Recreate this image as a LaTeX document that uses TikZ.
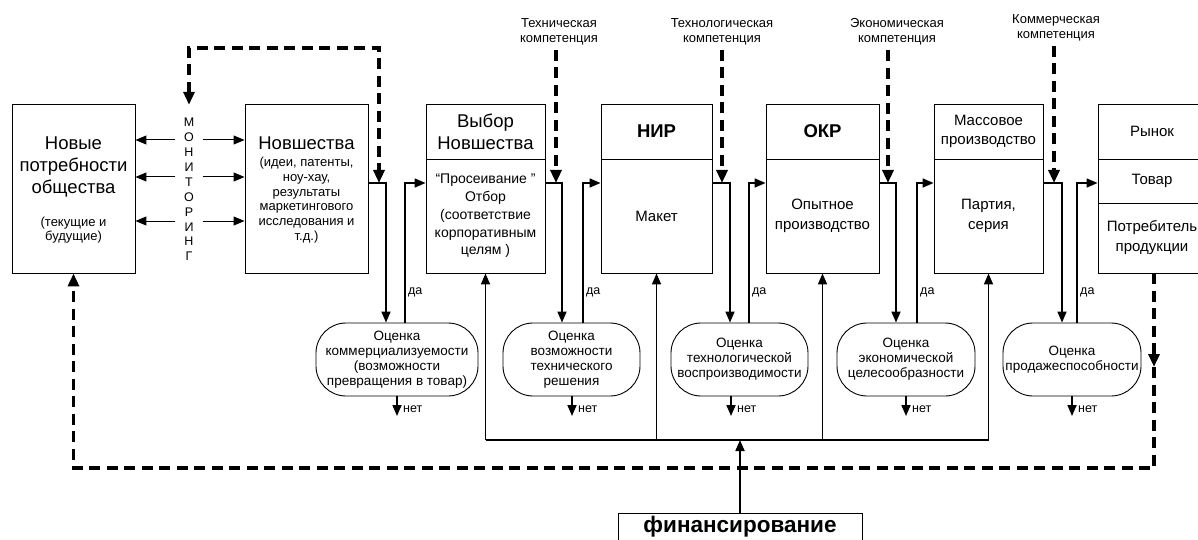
\documentclass[tikz,border=0pt]{standalone}
\usepackage{fontspec}
\setmainfont{Liberation Sans}
\usetikzlibrary{arrows.meta}
\newcommand\fsz[2]{\fontsize{#1}{#2}\selectfont}
\begin{document}
\begin{tikzpicture}[x=1pt,y=-1pt,
  box/.style={draw, line width=0.9pt, inner sep=0pt, align=center},
  big/.style={font=\fsz{18.5}{22}},
  body/.style={font=\fsz{15}{20}},
  conn/.style={line width=1.7pt},
  arr/.style={conn, -{Triangle[length=11pt,width=9pt]}},
  dsh/.style={line width=3.2pt, dash pattern=on 11pt off 6.5pt},
  darr/.style={dsh, -{Triangle[length=13pt,width=11pt]}},
  ev/.style={draw, line width=0.9pt, rounded corners=30pt, inner sep=0pt,
    minimum height=73pt, align=center, font=\fsz{13.5}{15}},
  txt/.style={inner sep=0pt, align=center},
  small/.style={font=\fsz{12.5}{14}},
  comp/.style={inner sep=0pt, align=center, font=\fsz{13}{15}}
]
\useasboundingbox (0,0) rectangle (1198,540);
\fill[white] (0,0) rectangle (1198,540);

% ---- boxes ----
\node[box, minimum width=123pt, minimum height=169pt] (b1) at (73.5,188.5) {};
\node[txt, big] (t1a) at (73.5,167) {Новые\\потребности\\общества};
\node[txt, font=\fsz{13}{14.5}] (t1b) at (73.5,230) {(текущие и\\будущие)};

\node[box, minimum width=123pt, minimum height=169pt] (b2) at (306.5,188.5) {};
\node[txt, big] (t2a) at (306.5,143) {Новшества};
\node[txt, font=\fsz{13}{14.7}] (t2b) at (306.5,200) {(идеи, патенты,\\ноу-хау,\\результаты\\маркетингового\\исследования и\\т.д.)};

\node[box, big, minimum width=119pt, minimum height=55pt] (b3t) at (485.5,131.5) {Выбор\\Новшества};
\node[box, font=\fsz{14}{17.8}, minimum width=119pt, minimum height=114pt] (b3b) at (485.5,216) {“Просеивание ”\\Отбор\\(соответствие\\корпоративным\\целям )};

\node[box, font=\fsz{18.5}{22}\bfseries, minimum width=111pt, minimum height=55pt] (b4t) at (656.5,131.5) {НИР};
\node[box, body, minimum width=111pt, minimum height=114pt] (b4b) at (656.5,216) {Макет};

\node[box, font=\fsz{18.5}{22}\bfseries, minimum width=113pt, minimum height=55pt] (b5t) at (822.5,131.5) {ОКР};
\node[box, body, minimum width=113pt, minimum height=114pt] (b5b) at (822.5,216) {Опытное\\производство};

\node[box, font=\fsz{15}{18.5}, minimum width=109pt, minimum height=55pt] (b6t) at (988.5,131.5) {Массовое\\производство};
\node[box, body, minimum width=109pt, minimum height=114pt] (b6b) at (988.5,216) {Партия,\\серия};

\node[box, body, minimum width=108pt, minimum height=55pt] (b7a) at (1152,131.5) {Рынок};
\node[box, body, minimum width=108pt, minimum height=44pt] (b7b) at (1152,181) {Товар};
\node[box, body, minimum width=108pt, minimum height=70pt] (b7c) at (1152,238) {Потребитель\\продукции};

% ---- monitoring ----
\node[txt, font=\fsz{12.5}{14.9}, minimum width=27pt, minimum height=169pt] (mon) at (189,189.5)
  {М\\О\\Н\\И\\Т\\О\\Р\\И\\Н\\Г};
\coordinate (r1) at (0,140);
\coordinate (r2) at (0,177);
\coordinate (r3) at (0,221);
\foreach \r in {r1,r2,r3}{
  \draw[arr, line width=1pt] (mon.west |- \r) -- (b1.east |- \r);
  \draw[arr, line width=1pt] (mon.east |- \r) -- (b2.west |- \r);
}

% ---- competence labels ----
\node[comp] (k1) at (559,31.5) {Техническая\\компетенция};
\node[comp] (k2) at (722,31.5) {Технологическая\\компетенция};
\node[comp] (k3) at (897,31.5) {Экономическая\\компетенция};
\node[comp] (k4) at (1056,27.5) {Коммерческая\\компетенция};

% ---- evaluation nodes ----
\node[ev, minimum width=162pt] (e1) at (397,359.5) {Оценка\\коммерциализуемости\\(возможности\\превращения в товар)};
\node[ev, minimum width=137pt] (e2) at (571.5,359.5) {Оценка\\возможности\\технического\\решения};
\node[ev, minimum width=137pt] (e3) at (739.5,359.5) {Оценка\\технологической\\воспроизводимости};
\node[ev, minimum width=138pt] (e4) at (906,359.5) {Оценка\\экономической\\целесообразности};
\node[ev, minimum width=138pt] (e5) at (1072,359.5) {Оценка\\продажеспособности};

% ---- junction coordinates ----
\coordinate (j1) at (379,183);
\coordinate (j2) at (556,183);
\coordinate (j3) at (722,183);
\coordinate (j4) at (888,183);
\coordinate (j5) at (1054,183);
\coordinate (d1) at (386,183);
\coordinate (d2) at (562,183);
\coordinate (d3) at (730,183);
\coordinate (d4) at (896,183);
\coordinate (d5) at (1062,183);
\coordinate (u1) at (405,183);
\coordinate (u2) at (583,183);
\coordinate (u3) at (749,183);
\coordinate (u4) at (917,183);
\coordinate (u5) at (1077,183);
\coordinate (n1) at (397,416);
\coordinate (n2) at (572,416);
\coordinate (n3) at (731,416);
\coordinate (n4) at (906,416);
\coordinate (n5) at (1072,416);

% ---- flow connectors ----
\draw[arr] (b2.east |- d1) -- (d1) -- (d1 |- e1.north);
\draw[arr] (b3b.east |- d2) -- (d2) -- (d2 |- e2.north);
\draw[arr] (b4b.east |- d3) -- (d3) -- (d3 |- e3.north);
\draw[arr] (b5b.east |- d4) -- (d4) -- (d4 |- e4.north);
\draw[arr] (b6b.east |- d5) -- (d5) -- (d5 |- e5.north);

\draw[arr] (u1 |- e1.north) -- (u1) -- (b3b.west |- u1);
\draw[arr] (u2 |- e2.north) -- (u2) -- (b4b.west |- u2);
\draw[arr] (u3 |- e3.north) -- (u3) -- (b5b.west |- u3);
\draw[arr] (u4 |- e4.north) -- (u4) -- (b6b.west |- u4);
\draw[arr] (u5 |- e5.north) -- (u5) -- (b7b.west |- u5);

\foreach \i/\x in {1/408,2/586,3/752,4/920,5/1080}{
  \node[txt, small, anchor=west] (da\i) at (\x,292) {да};
}
\foreach \i in {1,...,5}{
  \draw[arr] (e\i.south -| n\i) -- (n\i);
  \node[txt, small, anchor=west] (net\i) at ([xshift=6pt,yshift=7pt]n\i) {нет};
}

% ---- competence dashed arrows ----
\draw[darr, shorten <=5pt] (k1.south -| j2) -- (j2);
\draw[darr, shorten <=5pt] (k2.south -| j3) -- (j3);
\draw[darr, shorten <=5pt] (k3.south -| j4) -- (j4);
\draw[darr, shorten <=5pt] (k4.south -| j5) -- (j5);

% ---- top monitoring loop ----
\coordinate (top) at (0,48);
\draw[dsh, {Triangle[length=13pt,width=11pt]}-{Triangle[length=13pt,width=11pt]}]
  (mon.north) -- (mon.north |- top) -- (j1 |- top) -- (j1);

% ---- financing ----
\node[box, minimum width=244pt, minimum height=44pt] (fin) at (740,535) {};
\node[txt, font=\fsz{22.5}{24}\bfseries] (fint) at (740,527) {финансирование};
\coordinate (bus) at (0,440);
\draw[conn] (b3b.south |- bus) -- (b6b.south |- bus);
\draw[arr] (b3b.south |- bus) -- (b3b.south);
\draw[arr] (b4b.south |- bus) -- (b4b.south);
\draw[arr] (b5b.south |- bus) -- (b5b.south);
\draw[arr] (b6b.south |- bus) -- (b6b.south);
\draw[arr] (fin.north) -- (fin.north |- bus);

% ---- big feedback loop ----
\coordinate (m7) at (1154,367);
\coordinate (lb) at (0,468);
\draw[darr] (b7c.south -| m7) -- (m7);
\draw[darr] (m7) -- (m7 |- lb) -- (b1.south |- lb) -- (b1.south);
\end{tikzpicture}
\end{document}
